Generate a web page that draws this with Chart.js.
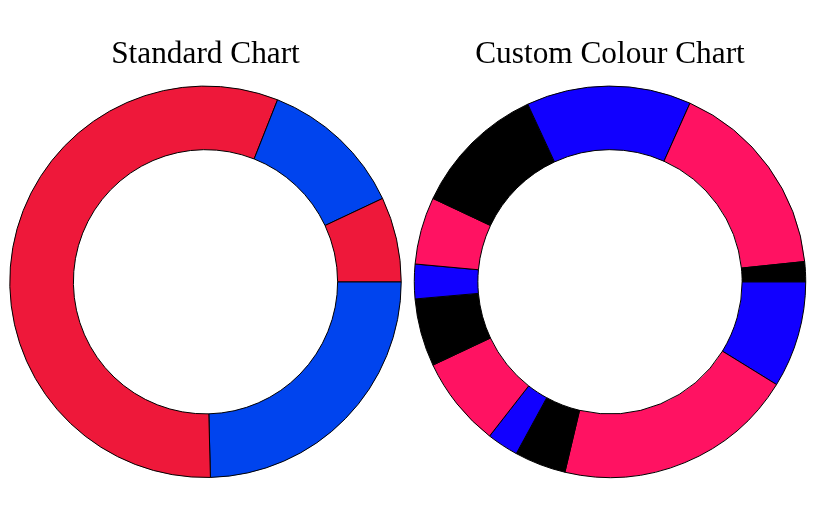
<!DOCTYPE html>
<html>
<head>
<meta charset="utf-8">
<script src="https://cdn.jsdelivr.net/npm/chart.js@4"></script>
<style>
  html, body { margin: 0; padding: 0; background: #fff; }
  body { width: 815px; height: 524px; position: relative; overflow: hidden; }
  .box { position: absolute; top: 0; height: 524px; }
  #b1 { left: 0; width: 411px; }
  #b2 { left: 405px; width: 410px; }
</style>
</head>
<body>
<div class="box" id="b1"><canvas id="c1"></canvas></div>
<div class="box" id="b2"><canvas id="c2"></canvas></div>
<script>
const standardLabels = ["A", "B", "C", "D"];
const standardValues = [24.6, 56.4, 12.0, 7.0];
const standardColours = ["#0044EE", "#EE183A", "#0044EE", "#EE183A"];

const customLabels = ["A", "B", "C", "D", "E", "F", "G", "H", "I", "J", "K", "L"];
const customValues = [8.8, 19.9, 4.25, 2.6, 7.45, 5.6, 2.85, 5.55, 11.1, 13.6, 16.65, 1.65];
const customColours = ["#1100FF", "#FF1262", "#000000"];

const titleFont = { family: "'Liberation Serif', 'Times New Roman', serif", size: 31.3, weight: 'normal' };

function makeChart(id, title, labels, values, colours) {
  const bg = values.map((v, i) => colours[i % colours.length]);
  return new Chart(document.getElementById(id), {
    type: 'doughnut',
    data: {
      labels: labels,
      datasets: [{
        data: values,
        backgroundColor: bg,
        borderColor: '#000000',
        borderWidth: 1,
        hoverOffset: 0
      }]
    },
    options: {
      responsive: true,
      maintainAspectRatio: false,
      animation: false,
      rotation: 90,
      cutout: '67.5%',
      layout: { padding: { top: 0, bottom: 46, left: 0, right: 0 } },
      plugins: {
        legend: { display: false },
        tooltip: { enabled: false },
        title: {
          display: true,
          text: title,
          color: '#000000',
          font: titleFont,
          padding: { top: 36, bottom: 12 }
        }
      }
    }
  });
}

makeChart('c1', 'Standard Chart', standardLabels, standardValues, standardColours);
makeChart('c2', 'Custom Colour Chart', customLabels, customValues, customColours);
</script>
</body>
</html>
